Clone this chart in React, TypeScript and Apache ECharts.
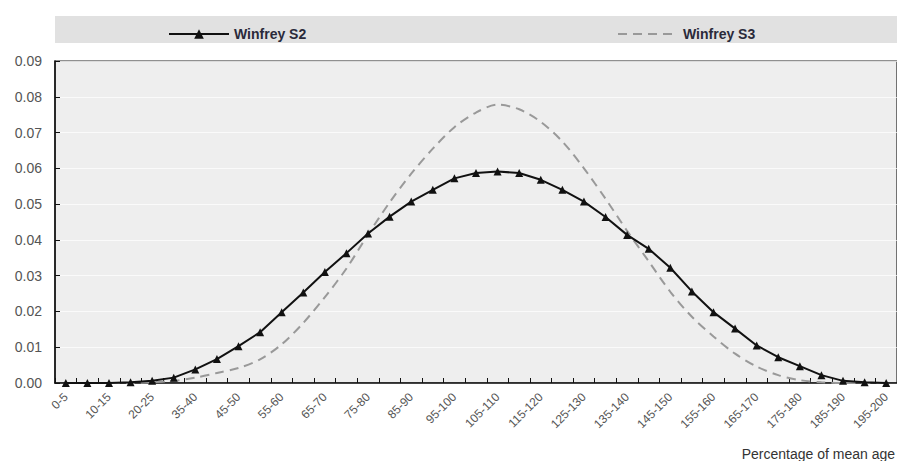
import { useEffect, useRef } from "react";
import * as echarts from "echarts";

// Age-class buckets (percentage of mean age)
const categories = [
  "0-5", "5-10", "10-15", "15-20", "20-25", "25-35", "35-40", "40-45", "45-50", "50-55",
  "55-60", "60-65", "65-70", "70-75", "75-80", "80-85", "85-90", "90-95", "95-100", "100-105",
  "105-110", "110-115", "115-120", "120-125", "125-130", "130-135", "135-140", "140-145", "145-150", "150-155",
  "155-160", "160-165", "165-170", "170-175", "175-180", "180-185", "185-190", "190-195", "195-200",
];

const winfreyS2 = [
  0.0, 0.0, 0.0, 0.0002, 0.0006, 0.0015, 0.0038, 0.0067, 0.0103, 0.0142,
  0.0198, 0.0253, 0.031, 0.0363, 0.0418, 0.0465, 0.0507, 0.054, 0.0572, 0.0587,
  0.0591, 0.0587, 0.0568, 0.054, 0.0507, 0.0464, 0.0414, 0.0375, 0.0322, 0.0256,
  0.0198, 0.0152, 0.0105, 0.0072, 0.0047, 0.0022, 0.0006, 0.0002, 0.0,
];

const winfreyS3 = [
  0.0, 0.0, 0.0, 0.0, 0.0002, 0.0006, 0.0015, 0.0028, 0.0042, 0.0066,
  0.0108, 0.0168, 0.024, 0.032, 0.0415, 0.0505, 0.0585, 0.0655, 0.0715, 0.0756,
  0.0778, 0.0765, 0.073, 0.0675, 0.06, 0.0515, 0.0425, 0.034, 0.0255, 0.0185,
  0.013, 0.0082, 0.0046, 0.0022, 0.0008, 0.0002, 0.0, 0.0, 0.0,
];

const yTicks = { min: 0, max: 0.09, step: 0.01 };
const xAxisTitle = "Percentage of mean age";
const seriesNames = ["Winfrey S2", "Winfrey S3"];

const FONT = "'Liberation Sans', Arial, sans-serif";

const legendText = { fontSize: 14, fontWeight: "bold", color: "#2a2a3a", fontFamily: FONT };

export default function App() {
  const ref = useRef<HTMLDivElement>(null);

  useEffect(() => {
    if (!ref.current) return;
    const chart = echarts.init(ref.current, undefined, { renderer: "svg" });
    chart.setOption({
      animation: false,
      backgroundColor: "#ffffff",
      textStyle: { fontFamily: FONT },
      grid: {
        left: 55,
        top: 61,
        right: -2,
        bottom: 78,
        show: true,
        backgroundColor: "#eeeeee",
        borderColor: "#222222",
        borderWidth: 1.2,
      },
      graphic: [
        {
          type: "rect",
          z: -1,
          shape: { x: 55, y: 16, width: 842, height: 27 },
          style: { fill: "#e1e1e1" },
        },
        {
          type: "text",
          x: 895,
          y: 447,
          style: {
            text: xAxisTitle,
            fontSize: 14,
            fontFamily: FONT,
            fill: "#333333",
            align: "right",
          },
        },
      ],
      legend: [
        {
          data: [seriesNames[0]],
          left: 163,
          top: 22,
          itemWidth: 60,
          itemHeight: 12,
          textStyle: legendText,
        },
        {
          data: [seriesNames[1]],
          left: 612,
          top: 22,
          itemWidth: 60,
          itemHeight: 12,
          itemStyle: { opacity: 0 },
          textStyle: legendText,
        },
      ],
      xAxis: {
        type: "category",
        data: categories,
        boundaryGap: true,
        axisLine: { lineStyle: { color: "#111111", width: 1.5 } },
        axisTick: { show: true, inside: true, length: 5, interval: 0, lineStyle: { color: "#111111" } },
        axisLabel: {
          interval: 1,
          rotate: 45,
          margin: 12,
          fontSize: 12,
          color: "#555555",
          fontFamily: FONT,
        },
        splitLine: { show: false },
      },
      yAxis: {
        type: "value",
        min: yTicks.min,
        max: yTicks.max,
        interval: yTicks.step,
        axisLine: { show: true, lineStyle: { color: "#111111", width: 1.5 } },
        axisTick: { show: true, inside: true, length: 5, lineStyle: { color: "#111111" } },
        axisLabel: {
          fontSize: 14,
          color: "#555555",
          margin: 13,
          fontFamily: FONT,
          formatter: (v: number) => v.toFixed(2),
        },
        splitLine: { show: true, lineStyle: { color: "rgba(255,255,255,0.7)", width: 1 } },
      },
      series: [
        {
          name: seriesNames[1],
          type: "line",
          data: winfreyS3,
          symbol: "none",
          smooth: 0.3,
          color: "#999999",
          lineStyle: { color: "#999999", width: 2, type: [9, 6] },
          z: 2,
        },
        {
          name: seriesNames[0],
          type: "line",
          data: winfreyS2,
          symbol: "triangle",
          symbolSize: 8,
          color: "#111111",
          itemStyle: { color: "#111111" },
          lineStyle: { color: "#111111", width: 2 },
          z: 3,
        },
      ],
    });
    return () => chart.dispose();
  }, []);

  return (
    <div
      ref={ref}
      style={{ position: "fixed", left: 0, top: 0, width: 897, height: 461 }}
    />
  );
}
